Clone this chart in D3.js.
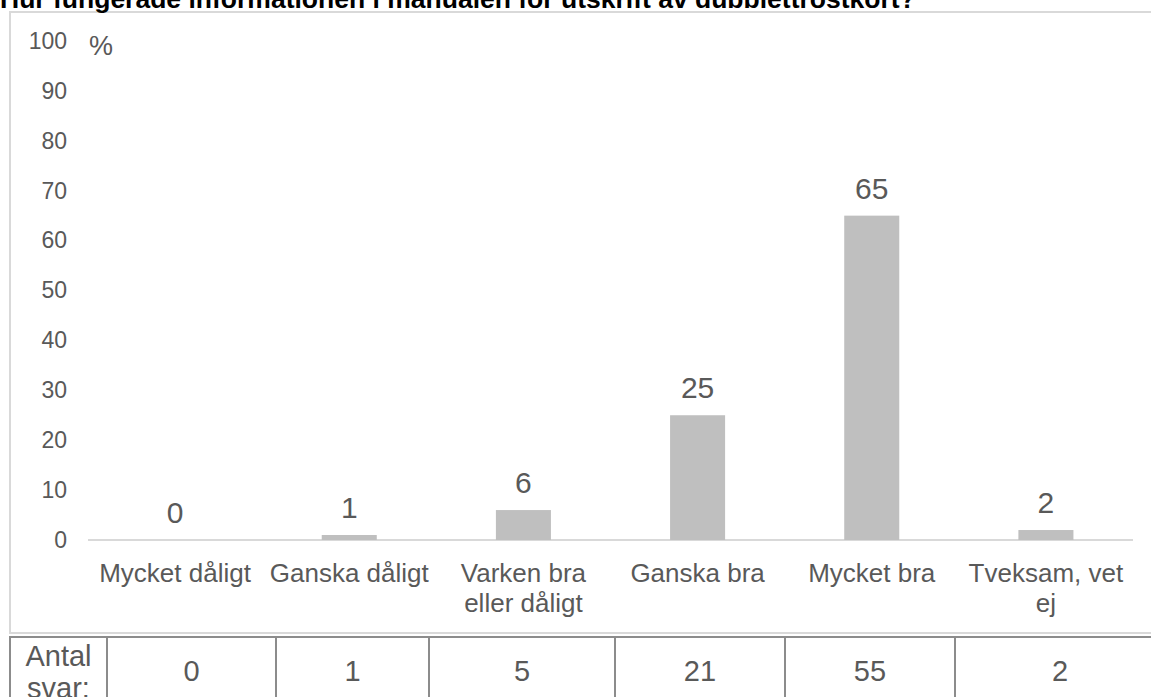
<!DOCTYPE html>
<html>
<head>
<meta charset="utf-8">
<script src="https://cdn.jsdelivr.net/npm/d3@7"></script>
<style>
  body { margin: 0; background: #fff; }
  svg { display: block; font-family: "Liberation Sans", Arial, sans-serif; }
</style>
</head>
<body>
<div class="chart"></div>
<script>
var width = 1151;
var height = 697;

// data
var title = "Hur fungerade informationen i manualen för utskrift av dubblettrostkort?";
var categories = ["Mycket dåligt", "Ganska dåligt", "Varken bra eller dåligt", "Ganska bra", "Mycket bra", "Tveksam, vet ej"];
var percent = [0, 1, 6, 25, 65, 2];
var counts = [0, 1, 5, 21, 55, 2];
var rowLabel = ["Antal", "svar:"];
var unitLabel = "%";

// table column edges (layout of the table under the chart)
var colEdges = [10, 107, 276, 429, 615, 785, 955, 1165];

var grey = "#595959";

var svg = d3.select(".chart")
	.append("svg")
	.attr("width", width)
	.attr("height", height);

// chart frame
svg.append("rect")
	.attr("x", 10)
	.attr("y", 12)
	.attr("width", 1160)
	.attr("height", 621)
	.attr("fill", "none")
	.attr("stroke", "#d9d9d9")
	.attr("stroke-width", 2);

// title, mostly cut off above the frame
var titleText = svg.append("text")
	.attr("x", 0)
	.attr("y", 8)
	.attr("font-weight", "bold")
	.attr("font-size", 22)
	.attr("fill", "#000")
	.text(title);
var tw = titleText.node().getComputedTextLength();
titleText.attr("font-size", 22 * 916 / tw);

var x = d3.scaleBand()
	.domain(categories)
	.range([88, 1133])
	.paddingInner(0.684)
	.paddingOuter(0.342);

var y = d3.scaleLinear()
	.domain([0, 100])
	.range([540, 41]);

// y axis labels
var yAxis = svg.append("g")
	.attr("transform", "translate(67,0)")
	.call(d3.axisLeft(y).ticks(10).tickSize(0).tickPadding(0));
yAxis.select(".domain").remove();
yAxis.selectAll("text")
	.attr("font-size", 23)
	.attr("font-family", "Liberation Sans, Arial, sans-serif")
	.attr("fill", grey);

svg.append("text")
	.attr("x", 89)
	.attr("y", y(100) + 14)
	.attr("font-size", 27)
	.attr("fill", grey)
	.text(unitLabel);

// baseline
svg.append("line")
	.attr("x1", 88)
	.attr("x2", 1133)
	.attr("y1", y(0))
	.attr("y2", y(0))
	.attr("stroke", "#d9d9d9")
	.attr("stroke-width", 2);

var bars = percent.map(function(v, i) {
	return { cat: categories[i], value: v };
});

svg.selectAll("rect.bar")
	.data(bars)
	.enter()
	.append("rect")
	.attr("class", "bar")
	.attr("x", function(d) { return x(d.cat); })
	.attr("y", function(d) { return y(d.value); })
	.attr("width", x.bandwidth())
	.attr("height", function(d) { return y(0) - y(d.value); })
	.attr("fill", "#bfbfbf");

svg.selectAll("text.val")
	.data(bars)
	.enter()
	.append("text")
	.attr("class", "val")
	.attr("x", function(d) { return x(d.cat) + x.bandwidth() / 2; })
	.attr("y", function(d) { return y(d.value) - 17; })
	.attr("text-anchor", "middle")
	.attr("font-size", 30)
	.attr("fill", grey)
	.text(function(d) { return d.value; });

// category labels, wrapped to the band step
var catLabels = svg.selectAll("text.cat")
	.data(categories)
	.enter()
	.append("text")
	.attr("class", "cat")
	.attr("x", function(d) { return x(d) + x.bandwidth() / 2; })
	.attr("y", 582)
	.attr("text-anchor", "middle")
	.attr("font-size", 26)
	.attr("fill", grey);

catLabels.each(function(d) {
	var el = d3.select(this);
	var words = d.split(" ");
	var line = [];
	var lineNo = 0;
	var tspan = el.append("tspan").attr("x", el.attr("x")).attr("dy", 0);
	words.forEach(function(w) {
		line.push(w);
		tspan.text(line.join(" "));
		if (tspan.node().getComputedTextLength() > 168 && line.length > 1) {
			line.pop();
			tspan.text(line.join(" "));
			line = [w];
			lineNo++;
			tspan = el.append("tspan").attr("x", el.attr("x")).attr("dy", 30).text(w);
		}
	});
});

// table with counts
var table = svg.append("g");
table.append("line")
	.attr("x1", colEdges[0]).attr("x2", colEdges[colEdges.length - 1])
	.attr("y1", 637).attr("y2", 637)
	.attr("stroke", "#8c8c8c").attr("stroke-width", 2);
table.selectAll("line.col")
	.data(colEdges)
	.enter()
	.append("line")
	.attr("class", "col")
	.attr("x1", function(d) { return d; })
	.attr("x2", function(d) { return d; })
	.attr("y1", 636)
	.attr("y2", height + 5)
	.attr("stroke", "#8c8c8c")
	.attr("stroke-width", 2);

table.append("text")
	.attr("x", (colEdges[0] + colEdges[1]) / 2)
	.attr("y", 666)
	.attr("text-anchor", "middle")
	.attr("font-size", 29)
	.attr("fill", grey)
	.selectAll("tspan")
	.data(rowLabel)
	.enter()
	.append("tspan")
	.attr("x", (colEdges[0] + colEdges[1]) / 2)
	.attr("dy", function(d, i) { return i ? 32 : 0; })
	.text(function(d) { return d; });

table.selectAll("text.count")
	.data(counts)
	.enter()
	.append("text")
	.attr("class", "count")
	.attr("x", function(d, i) { return (colEdges[i + 1] + colEdges[i + 2]) / 2; })
	.attr("y", 681)
	.attr("text-anchor", "middle")
	.attr("font-size", 29)
	.attr("fill", grey)
	.text(function(d) { return d; });
</script>
</body>
</html>
